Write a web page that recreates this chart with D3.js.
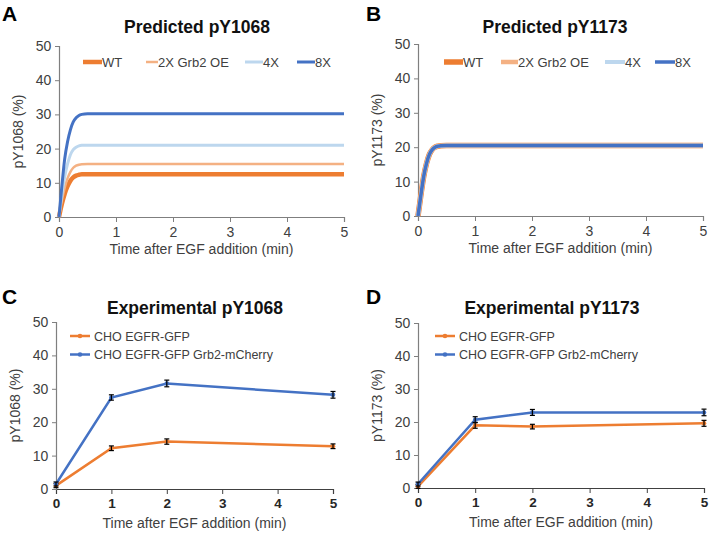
<!DOCTYPE html>
<html><head><meta charset="utf-8">
<script src="https://cdn.jsdelivr.net/npm/d3@7"></script>
<style>body{margin:0;background:#fff}svg{display:block}text{font-family:"Liberation Sans",Arial,sans-serif}</style>
</head><body><svg id="c" width="713" height="534"></svg>
<script>
// ---- data ----
const predTime = [0,0.05,0.1,0.15,0.2,0.25,0.3,0.35,0.4,0.5,0.7,1,2,3,4,5];
const predA_WT  = [0,3.8,6.8,9,10.6,11.6,12.1,12.35,12.5,12.5,12.5,12.5,12.5,12.5,12.5,12.5];
const predA_2X  = [0,4.8,8.6,11.3,13.2,14.4,15,15.3,15.45,15.5,15.5,15.5,15.5,15.5,15.5,15.5];
const predA_4X  = [0,6.5,11.8,15.5,18.2,19.7,20.4,20.8,20.95,21,21,21,21,21,21,21];
const predA_8X  = [0,9,17,22,25.5,27.8,29,29.7,30,30.2,30.2,30.2,30.2,30.2,30.2,30.2];
const predB_all = [0,6,11.5,15.3,17.9,19.3,20,20.3,20.45,20.5,20.5,20.5,20.5,20.5,20.5,20.5];
const predSeriesNames = ["WT","2X Grb2 OE","4X","8X"];
const expTime = [0,1,2,5];
const expC_ctrl = [1.0,12.2,14.2,12.8];
const expC_ctrlErr = [0.6,0.7,0.8,0.7];
const expC_grb2 = [1.5,27.4,31.6,28.2];
const expC_grb2Err = [0.6,0.8,1.0,1.0];
const expD_ctrl = [0.5,19.0,18.6,19.6];
const expD_ctrlErr = [0.6,0.9,0.7,0.9];
const expD_grb2 = [1.2,20.7,22.9,22.9];
const expD_grb2Err = [0.6,0.9,0.9,1.0];
const expSeriesNames = ["CHO EGFR-GFP","CHO EGFR-GFP Grb2-mCherry"];
const xTicks = [0,1,2,3,4,5];
const yTicks = [0,10,20,30,40,50];

const C_OR="#ED7D31", C_LOR="#F4B183", C_LBL="#BDD7EE", C_BL="#4472C4";
const svg = d3.select("#c");

function panel(o){
  const g = svg.append("g");
  const x = d3.scaleLinear().domain([0,5]).range([o.x0,o.x1]);
  const y = d3.scaleLinear().domain([0,50]).range([o.y0,o.y1]);
  const xa = g.append("g").attr("transform",`translate(0,${o.y0})`)
    .call(d3.axisBottom(x).tickValues(xTicks).tickSize(5).tickFormat(d3.format("d")));
  const ya = g.append("g").attr("transform",`translate(${o.x0},0)`)
    .call(d3.axisLeft(y).tickValues(yTicks).tickSize(4).tickFormat(d3.format("d")));
  [xa,ya].forEach(a=>{
    a.select(".domain").attr("stroke","#7f7f7f").attr("stroke-width",1.2);
    a.selectAll(".tick line").attr("stroke","#7f7f7f");
    a.selectAll("text").attr("fill","#404040").style("font-size","14px");
  });
  if(o.boldX){
    xa.select(".domain").attr("stroke","#404040");
    xa.selectAll(".tick line").attr("stroke","#404040");
    xa.selectAll("text").attr("fill","#262626").style("font-weight","bold").style("font-size","13.5px");
  }
  xa.selectAll("text").attr("dy","0.85em");
  ya.selectAll("text").attr("dx","-0.05em");
  g.append("text").attr("x",(o.x0+o.x1)/2).attr("y",o.y0+(o.boldX?39:37)).attr("text-anchor","middle")
    .attr("fill","#404040").style("font-size","14px").text("Time after EGF addition (min)");
  g.append("text").attr("transform",`translate(${o.x0-36},${(o.y0+o.y1)/2}) rotate(-90)`)
    .attr("text-anchor","middle").attr("fill","#404040").style("font-size","14px").text(o.ylab);
  g.append("text").attr("x",o.tx).attr("y",o.ty).attr("text-anchor","middle")
    .style("font-weight","bold").style("font-size","17.5px").attr("fill","#111").text(o.title);
  g.append("text").attr("x",o.lx).attr("y",o.ly).style("font-weight","bold").style("font-size","21px")
    .attr("fill","#000").text(o.letter);
  return {g,x,y};
}

// Panel A
(function(){
  const p = panel({x0:59,x1:344,y0:217,y1:46,title:"Predicted pY1068",tx:197,ty:33,letter:"A",lx:2,ly:21,ylab:"pY1068 (%)"});
  const line = d3.line().x((d,i)=>p.x(predTime[i])).y(d=>p.y(d)).curve(d3.curveMonotoneX);
  const ser = [[predA_WT,C_OR,4.5],[predA_2X,C_LOR,2.5],[predA_4X,C_LBL,3],[predA_8X,C_BL,3]];
  ser.forEach(s=>p.g.append("path").attr("d",line(s[0])).attr("fill","none").attr("stroke",s[1]).attr("stroke-width",s[2]));
  const lg=[[83,102],[146,158],[245,263],[297,315]];
  ser.forEach((s,i)=>{
    p.g.append("line").attr("x1",lg[i][0]).attr("x2",lg[i][1]).attr("y1",62).attr("y2",62).attr("stroke",s[1]).attr("stroke-width",s[2]);
    p.g.append("text").attr("x",lg[i][1]).attr("y",66.5).attr("fill","#404040").style("font-size","13px").text(predSeriesNames[i]);
  });
})();

// Panel B
(function(){
  const p = panel({x0:418,x1:703,y0:216,y1:44,title:"Predicted pY1173",tx:555,ty:33,letter:"B",lx:366,ly:21,ylab:"pY1173 (%)"});
  const line = d3.line().x((d,i)=>p.x(predTime[i])).y(d=>p.y(d)).curve(d3.curveMonotoneX);
  const ser = [[predB_all,C_OR,5.5],[predB_all,C_LOR,4.5],[predB_all,C_LBL,4],[predB_all,C_BL,3.5]];
  ser.forEach(s=>p.g.append("path").attr("d",line(s[0])).attr("fill","none").attr("stroke",s[1]).attr("stroke-width",s[2]));
  const lg=[[444,463],[501,518],[605,625],[655,675]];
  ser.forEach((s,i)=>{
    p.g.append("line").attr("x1",lg[i][0]).attr("x2",lg[i][1]).attr("y1",62).attr("y2",62).attr("stroke",s[1]).attr("stroke-width",s[2]);
    p.g.append("text").attr("x",lg[i][1]).attr("y",66.5).attr("fill","#404040").style("font-size","13px").text(predSeriesNames[i]);
  });
})();

function expPanel(o, ser){
  const p = panel(o);
  const line = d3.line().x((d,i)=>p.x(expTime[i])).y(d=>p.y(d));
  ser.forEach(s=>{
    p.g.append("path").attr("d",line(s.v)).attr("fill","none").attr("stroke",s.c).attr("stroke-width",2.5);
  });
  ser.forEach(s=>{
    s.v.forEach((v,i)=>{
      const xx=p.x(expTime[i]);
      p.g.append("circle").attr("cx",xx).attr("cy",p.y(v)).attr("r",2.3).attr("fill",s.c);
      const e=s.e[i];
      p.g.append("line").attr("x1",xx).attr("x2",xx).attr("y1",p.y(v-e)).attr("y2",p.y(v+e)).attr("stroke","#000").attr("stroke-width",1.2);
      [v-e,v+e].forEach(w=>p.g.append("line").attr("x1",xx-2.5).attr("x2",xx+2.5).attr("y1",p.y(w)).attr("y2",p.y(w)).attr("stroke","#000").attr("stroke-width",1.2));
    });
  });
  ser.forEach((s,i)=>{
    const ly=o.legY+i*18.5;
    p.g.append("line").attr("x1",o.legX).attr("x2",o.legX+20).attr("y1",ly).attr("y2",ly).attr("stroke",s.c).attr("stroke-width",2.5);
    p.g.append("circle").attr("cx",o.legX+10).attr("cy",ly).attr("r",2.3).attr("fill",s.c);
    p.g.append("text").attr("x",o.legX+24).attr("y",ly+4.5).attr("fill","#404040").style("font-size","12.5px").text(expSeriesNames[i]);
  });
}

expPanel({x0:56,x1:333,y0:489,y1:322,title:"Experimental pY1068",tx:195,ty:314,letter:"C",lx:2,ly:304,ylab:"pY1068 (%)",legX:70,legY:336,boldX:true},
  [{v:expC_ctrl,e:expC_ctrlErr,c:C_OR},{v:expC_grb2,e:expC_grb2Err,c:C_BL}]);
expPanel({x0:418,x1:704,y0:488,y1:323,title:"Experimental pY1173",tx:552,ty:314,letter:"D",lx:366,ly:304,ylab:"pY1173 (%)",legX:435,legY:336,boldX:true},
  [{v:expD_ctrl,e:expD_ctrlErr,c:C_OR},{v:expD_grb2,e:expD_grb2Err,c:C_BL}]);
</script></body></html>
